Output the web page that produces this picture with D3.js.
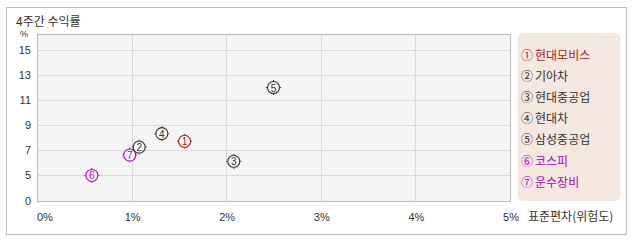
<!DOCTYPE html>
<html>
<head>
<meta charset="utf-8">
<script src="https://cdn.jsdelivr.net/npm/d3@7"></script>
<style>
  body { margin: 0; background: #fff; }
  text { font-family: "Liberation Sans", "Noto Sans CJK KR", sans-serif; }
  .kr { font-family: "Noto Sans CJK KR", sans-serif; }
</style>
</head>
<body>
<svg id="chart" width="638" height="242"></svg>
<script>
var names = ["현대모비스","기아차","현대중공업","현대차","삼성중공업","코스피","운수장비"];
var marks = ["①","②","③","④","⑤","⑥","⑦"];
var stdev = [1.56, 1.08, 2.08, 1.32, 2.50, 0.58, 0.98];
var returns = [7.72, 7.26, 6.12, 8.33, 12.02, 4.97, 6.62];
var colors = ["#b01818","#333333","#333333","#333333","#333333","#b000c0","#b000c0"];
var xTicks = [0, 1, 2, 3, 4, 5];
var yTicks = [0, 5, 7, 9, 11, 13, 15];

var svg = d3.select("#chart");

var plotLeft = 37, plotRight = 510, plotTop = 34, plotBottom = 201;

var x = d3.scaleLinear().domain([0, 5]).range([plotLeft, plotRight]);
// bottom of the axis is squeezed: 0..5 takes only ~26px
var y = d3.scaleLinear().domain([0, 5, 16.3]).range([plotBottom, 175.3, plotTop]);

// outer frame
svg.append("rect")
  .attr("x", 6.5).attr("y", 7.5)
  .attr("width", 620).attr("height", 227)
  .attr("fill", "#fff").attr("stroke", "#bbb");

svg.append("text").attr("class", "kr")
  .attr("x", 16).attr("y", 26)
  .attr("font-size", 12).attr("fill", "#333")
  .text("4주간 수익률");

// plot area
svg.append("rect")
  .attr("x", plotLeft + 0.5).attr("y", plotTop + 0.5)
  .attr("width", plotRight - plotLeft).attr("height", plotBottom - plotTop)
  .attr("fill", "#f5f5f5").attr("stroke", "#bbb");

svg.append("g").selectAll("line")
  .data(yTicks.filter(function(d){ return d > 0; }))
  .enter().append("line")
  .attr("x1", plotLeft + 1).attr("x2", plotRight)
  .attr("y1", function(d){ return Math.round(y(d)) + 0.5; })
  .attr("y2", function(d){ return Math.round(y(d)) + 0.5; })
  .attr("stroke", "#dadada");

svg.append("g").selectAll("line")
  .data(xTicks.slice(1, -1))
  .enter().append("line")
  .attr("y1", plotTop + 1).attr("y2", plotBottom)
  .attr("x1", function(d){ return Math.round(x(d)) + 0.5; })
  .attr("x2", function(d){ return Math.round(x(d)) + 0.5; })
  .attr("stroke", "#dadada");

// y labels
svg.append("g").selectAll("text")
  .data(yTicks)
  .enter().append("text")
  .attr("x", 31)
  .attr("y", function(d){ return y(d) + 4; })
  .attr("text-anchor", "end")
  .attr("font-size", 11).attr("fill", "#333")
  .text(function(d){ return d; });

svg.append("text")
  .attr("x", 24).attr("y", 37)
  .attr("text-anchor", "middle")
  .attr("font-size", 9).attr("fill", "#333")
  .text("%");

// x labels
svg.append("g").selectAll("text")
  .data(xTicks)
  .enter().append("text")
  .attr("x", function(d, i){ return i === 0 ? x(d) : x(d) + 1; })
  .attr("y", 221)
  .attr("text-anchor", function(d, i){ return i === 0 ? "start" : "middle"; })
  .attr("font-size", 11).attr("fill", "#333")
  .text(function(d){ return d + "%"; });

svg.append("text").attr("class", "kr")
  .attr("x", 528).attr("y", 221)
  .attr("font-size", 12).attr("fill", "#333")
  .text("표준편차(위험도)");

// points
var pts = svg.append("g").selectAll("g")
  .data(names)
  .enter().append("g")
  .attr("transform", function(d, i){
    return "translate(" + x(stdev[i]) + "," + y(returns[i]) + ")";
  });

pts.append("circle")
  .attr("r", 6)
  .attr("fill", "#fafafa")
  .attr("stroke", function(d, i){ return colors[i]; })
  .attr("stroke-width", 1.1);

pts.append("path")
  .attr("d", "M0,-7.5V-6.5M0,6.5V7.5M-7.5,0H-6.5M6.5,0H7.5")
  .attr("stroke", function(d, i){ return colors[i]; });

pts.append("text")
  .attr("y", 4)
  .attr("text-anchor", "middle")
  .attr("font-size", 10)
  .attr("fill", function(d, i){ return colors[i]; })
  .text(function(d, i){ return i + 1; });

// legend
svg.append("rect")
  .attr("x", 517.5).attr("y", 33)
  .attr("width", 103).attr("height", 168)
  .attr("rx", 6)
  .attr("fill", "#f5e8e1");

var items = svg.append("g").selectAll("text")
  .data(names)
  .enter().append("text").attr("class", "kr")
  .attr("x", 521)
  .attr("y", function(d, i){ return 59.5 + i * 21.2; })
  .attr("font-size", 12)
  .attr("fill", function(d, i){ return colors[i]; });

items.append("tspan").text(function(d, i){ return marks[i]; });
items.append("tspan").attr("dx", 2).text(function(d){ return d; });
</script>
</body>
</html>
